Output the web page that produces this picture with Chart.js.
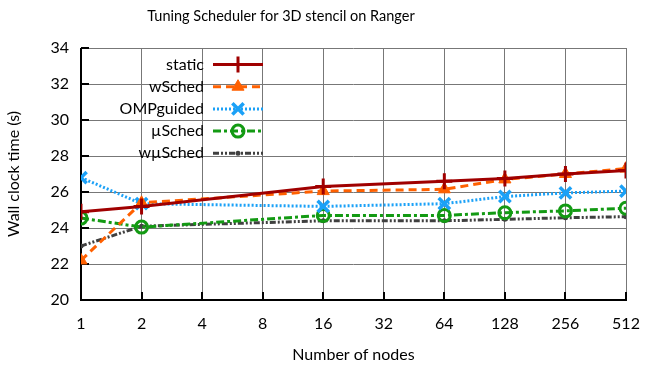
<!DOCTYPE html>
<html>
<head>
<meta charset="utf-8">
<script src="https://cdn.jsdelivr.net/npm/chart.js@4/dist/chart.umd.min.js"></script>
<style>
  body { margin: 0; background: #fff; }
  canvas { display: block; }
</style>
</head>
<body>
<canvas id="chart" width="655" height="368"></canvas>
<script>
// values
const nodes = [1, 2, 16, 64, 128, 256, 512];
const xTicks = [1, 2, 4, 8, 16, 32, 64, 128, 256, 512];
const yTicks = [20, 22, 24, 26, 28, 30, 32, 34];

const staticTimes = [24.9, 25.2, 26.3, 26.6, 26.75, 27.0, 27.2];
const wSchedTimes = [22.2, 25.4, 26.05, 26.15, 26.7, 27.0, 27.3];
const ompGuidedTimes = [26.8, 25.35, 25.2, 25.35, 25.75, 25.95, 26.05];
const muSchedTimes = [24.55, 24.05, 24.7, 24.7, 24.85, 24.95, 25.1];
const wMuSchedTimes = [23.0, 24.1, 24.4, 24.4, 24.48, 24.57, 24.63];

const FONT = 'Lato, "Open Sans", sans-serif';

const toPoints = vals => nodes.map((n, i) => ({ x: n, y: vals[i] }));

const series = [
  { label: 'static', data: staticTimes, color: '#a00000', dash: [], style: 'cross', radius: 8, bw: 3 },
  { label: 'wSched', data: wSchedTimes, color: '#ff6000', dash: [8, 5], style: 'triangle', radius: 7, bw: 1, fill: true },
  { label: 'OMPguided', data: ompGuidedTimes, color: '#1ba1f7', dash: [2, 2], style: 'crossRot', radius: 8, bw: 3.5 },
  { label: 'µSched', data: muSchedTimes, color: '#139a13', dash: [8, 3, 3, 3], style: 'circle', radius: 6, bw: 3 },
  { label: 'wµSched', data: wMuSchedTimes, color: '#404040', dash: [6, 2, 2, 2, 2, 2], style: 'circle', radius: 1.5, bw: 2, fill: true }
];

const datasets = series.map(s => ({
  label: s.label,
  data: toPoints(s.data),
  borderColor: s.color,
  backgroundColor: s.fill ? s.color : 'transparent',
  borderWidth: 3,
  borderDash: s.dash,
  pointStyle: s.style,
  pointRadius: s.radius,
  pointBorderWidth: s.bw,
  pointBorderColor: s.color,
  pointBackgroundColor: s.fill ? s.color : 'transparent',
  tension: 0
}));

// title, legend and inward tick marks
const decorations = {
  id: 'decorations',
  beforeDatasetsDraw(chart) {
    const ctx = chart.ctx;
    const { x, y } = chart.scales;
    const area = chart.chartArea;
    ctx.save();
    ctx.strokeStyle = '#000';
    ctx.lineWidth = 2;
    ctx.beginPath();
    xTicks.forEach(t => {
      const px = Math.round(x.getPixelForValue(t));
      ctx.moveTo(px, area.bottom);
      ctx.lineTo(px, area.bottom - 8);
    });
    yTicks.forEach(t => {
      const py = Math.round(y.getPixelForValue(t));
      ctx.moveTo(area.left, py);
      ctx.lineTo(area.left + 8, py);
    });
    ctx.stroke();
    // axis lines
    ctx.beginPath();
    ctx.moveTo(area.left, area.top);
    ctx.lineTo(area.left, area.bottom);
    ctx.lineTo(area.right + 1, area.bottom);
    ctx.stroke();
    ctx.restore();
  },
  afterDraw(chart) {
    const ctx = chart.ctx;
    ctx.save();
    ctx.fillStyle = '#000';
    ctx.font = '14.5px ' + FONT;
    ctx.textAlign = 'center';
    ctx.textBaseline = 'middle';
    ctx.fillText('Tuning Scheduler for 3D stencil on Ranger', 281, 16);

    ctx.font = '16px ' + FONT;
    ctx.textAlign = 'right';
    chart.data.datasets.forEach((ds, i) => {
      const ly = 64.5 + i * 22.2;
      ctx.fillStyle = '#000';
      ctx.fillText(ds.label, 204, ly);
      ctx.save();
      ctx.strokeStyle = ds.borderColor;
      ctx.lineWidth = ds.borderWidth;
      ctx.setLineDash(ds.borderDash);
      ctx.beginPath();
      ctx.moveTo(213, ly);
      ctx.lineTo(263, ly);
      ctx.stroke();
      ctx.setLineDash([]);
      ctx.fillStyle = ds.pointBackgroundColor;
      ctx.strokeStyle = ds.pointBorderColor;
      ctx.lineWidth = ds.pointBorderWidth;
      Chart.helpers.drawPoint(ctx, {
        pointStyle: ds.pointStyle,
        radius: ds.pointRadius,
        borderWidth: ds.pointBorderWidth,
        rotation: 0
      }, 238, ly);
      ctx.restore();
    });
    ctx.restore();
  }
};

const gridStyle = {
  color: '#777',
  lineWidth: 1,
  borderDash: [1, 3],
  drawTicks: false
};

new Chart(document.getElementById('chart'), {
  type: 'line',
  data: { datasets },
  options: {
    responsive: false,
    animation: false,
    elements: { line: { tension: 0 } },
    layout: { padding: { top: 48, right: 29, left: 0, bottom: 0 } },
    plugins: {
      legend: { display: false },
      title: { display: false },
      tooltip: { enabled: false }
    },
    scales: {
      x: {
        type: 'logarithmic',
        min: 1,
        max: 512,
        afterBuildTicks: scale => { scale.ticks = xTicks.map(v => ({ value: v })); },
        afterFit: scale => { scale.height = 68; },
        grid: gridStyle,
        border: { display: false },
        ticks: {
          autoSkip: false,
          maxRotation: 0,
          padding: 14,
          color: '#000',
          font: { family: FONT, size: 16 },
          callback: v => String(v)
        },
        title: {
          display: true,
          text: 'Number of nodes',
          color: '#000',
          font: { family: FONT, size: 16 },
          padding: { top: 4, bottom: 4 }
        }
      },
      y: {
        min: 20,
        max: 34,
        afterBuildTicks: scale => { scale.ticks = yTicks.map(v => ({ value: v })); },
        afterFit: scale => { scale.width = 81; },
        grid: gridStyle,
        border: { display: false },
        ticks: {
          padding: 12,
          color: '#000',
          font: { family: FONT, size: 16 }
        },
        title: {
          display: true,
          text: 'Wall clock time (s)',
          color: '#000',
          font: { family: FONT, size: 16 },
          padding: { top: 4, bottom: 4 }
        }
      }
    }
  },
  plugins: [decorations]
});
</script>
</body>
</html>
